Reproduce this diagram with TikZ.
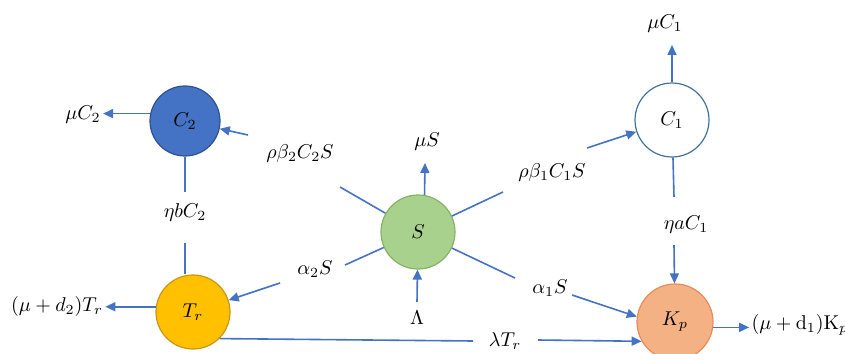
\documentclass[tikz,border=0pt]{standalone}
\usetikzlibrary{arrows.meta}
\definecolor{ln}{RGB}{68,114,196}
\definecolor{ctwofill}{RGB}{68,114,196}
\definecolor{ctwodraw}{RGB}{47,82,143}
\definecolor{trfill}{RGB}{255,192,0}
\definecolor{trdraw}{RGB}{200,150,20}
\definecolor{sfill}{RGB}{169,209,142}
\definecolor{sdraw}{RGB}{130,180,100}
\definecolor{conedraw}{RGB}{65,113,156}
\definecolor{kpfill}{RGB}{244,177,131}
\definecolor{kpdraw}{RGB}{230,140,90}
\begin{document}
\begin{tikzpicture}[x=0.5pt,y=-0.5pt,
  comp/.style={circle,inner sep=0pt,line width=0.6pt},
  lbl/.style={inner sep=1pt},
  flow/.style={draw=ln,line width=0.8pt},
  arr/.style={flow,-{Triangle[length=5pt,width=4.5pt]}}]
\useasboundingbox (0,0) rectangle (845,353);
% compartments
\node[comp,minimum size=35pt,fill=ctwofill,draw=ctwodraw] (C2) at (185,121) {$C_2$};
\node[comp,minimum size=37pt,fill=trfill,draw=trdraw] (Tr) at (193,312) {$T_r$};
\node[comp,minimum size=37pt,fill=sfill,draw=sdraw] (S) at (418,232) {$S$};
\node[comp,minimum size=37pt,fill=white,draw=conedraw] (C1) at (672,120) {$C_1$};
\node[comp,minimum size=38pt,fill=kpfill,draw=kpdraw] (Kp) at (675,322) {$K_p$};
% labels
\node[lbl] (muC2) at (83,115) {$\mu C_2$};
\node[lbl] (muTr) at (57,306) {$(\mu+d_2)T_r$};
\node[lbl] (rb2) at (300,153) {$\rho\beta_2C_2S$};
\node[lbl] (muS) at (427,142) {$\mu S$};
\node[lbl] (rb1) at (552,172) {$\rho\beta_1C_1S$};
\node[lbl] (muC1) at (665,24) {$\mu C_1$};
\node[lbl] (etab) at (185,212) {$\eta b C_2$};
\node[lbl] (etaa) at (686,225) {$\eta a C_1$};
\node[lbl] (a2) at (315,269) {$\alpha_2S$};
\node[lbl] (a1) at (550,288) {$\alpha_1S$};
\node[lbl] (Lam) at (417,318) {$\Lambda$};
\node[lbl] (lamT) at (505,341) {$\lambda T_r$};
\node[lbl] (muKp) at (800,325) {$(\mu+\mathrm{d}_1)\mathrm{K}_p$};
% free ends
\coordinate (p1) at (340,187); \coordinate (p2) at (248,135);
\coordinate (q1) at (503,192); \coordinate (q2) at (587,148);
\coordinate (r1) at (345,265); \coordinate (r2) at (280,283);
\coordinate (s1) at (515,278); \coordinate (s2) at (572,295);
\coordinate (t1) at (473,341); \coordinate (t2) at (538,340);
\coordinate (v1) at (185,192); \coordinate (v2) at (185,243);
\coordinate (w1) at (674,197); \coordinate (w2) at (674,245);
\coordinate (L) at (417,302);
\coordinate (muSt) at (425,163);
\coordinate (muCt) at (672,45);
% connectors
\draw[arr] (C2.168) -- (C2.168 -| muC2.east);
\draw[flow] (S) -- (p1);
\draw[arr] (p2) -- (C2);
\draw[arr] (S.80) -- (muSt);
\draw[flow] (S) -- (q1);
\draw[arr] (q2) -- (C1);
\draw[arr] (C1) -- (muCt);
\draw[flow] (C2) -- (v1);
\draw[flow] (v2) -- (v2 |- Tr.north);
\draw[flow] (C1) -- (w1);
\draw[arr] (w2) -- (Kp);
\draw[flow] (S) -- (r1);
\draw[arr] (r2) -- (Tr);
\draw[flow] (S) -- (s1);
\draw[arr] (s2) -- (Kp.172);
\draw[arr] (L) -- (S);
\draw[flow] (Tr.-45) -- (t1);
\draw[arr] (t2) -- (Kp.-150);
\draw[arr] (Tr.172) -- (Tr.172 -| muTr.east);
\draw[arr] (Kp.-8) -- (Kp.-8 -| muKp.west);
\end{tikzpicture}
\end{document}
